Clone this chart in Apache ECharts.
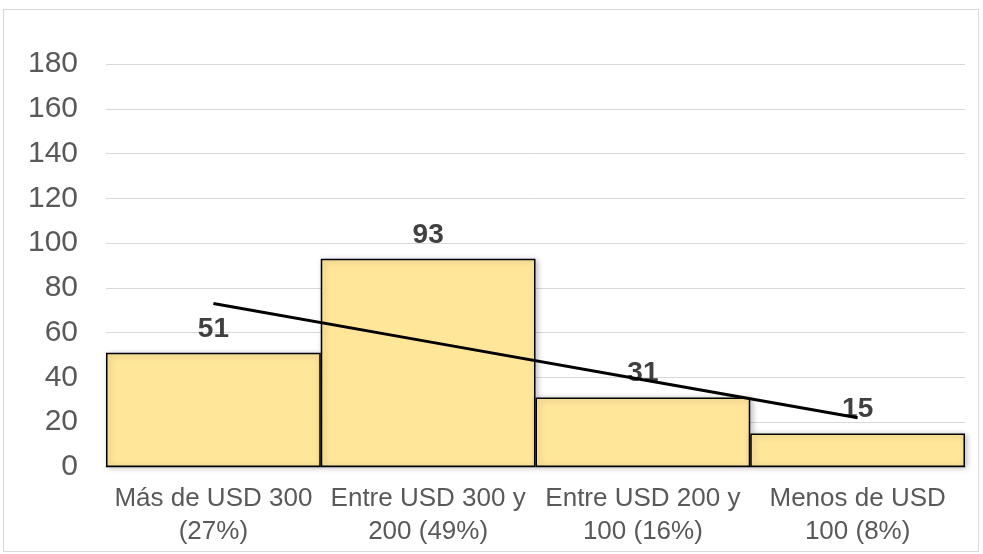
<!DOCTYPE html>
<html>
<head>
<meta charset="utf-8">
<script src="https://cdn.jsdelivr.net/npm/echarts@6/dist/echarts.min.js"></script>
<style>
  html, body { margin: 0; padding: 0; background: #fff; }
  #frame { position: absolute; left: 3px; top: 9px; width: 976px; height: 543px; border: 1px solid #d9d9d9; box-sizing: border-box; }
  #main { position: absolute; left: 0; top: 0; width: 983px; height: 554px; }
</style>
</head>
<body>
<div id="frame"></div>
<div id="main"></div>
<script>
// categories and values
var categories = [
  "Más de USD 300\n(27%)",
  "Entre USD 300 y\n200 (49%)",
  "Entre USD 200 y\n100 (16%)",
  "Menos de USD\n100 (8%)"
];
var counts = [51, 93, 31, 15];
var trend = [73, 56, 39, 22];
var yTicks = { min: 0, max: 180, interval: 20 };

var chart = echarts.init(document.getElementById("main"));
var option = {
  animation: false,
  grid: { left: 106, right: 18, top: 64, bottom: 87 },
  xAxis: {
    type: "category",
    data: categories,
    axisTick: { show: false },
    axisLine: { lineStyle: { color: "#bfbfbf", width: 1.5 } },
    axisLabel: {
      color: "#595959",
      fontSize: 26,
      fontFamily: "Liberation Sans, Arial, sans-serif",
      lineHeight: 33,
      margin: 15,
      interval: 0
    }
  },
  yAxis: {
    type: "value",
    min: yTicks.min,
    max: yTicks.max,
    interval: yTicks.interval,
    axisLine: { show: false },
    axisTick: { show: false },
    splitLine: { lineStyle: { color: "#d9d9d9", width: 1 } },
    axisLabel: {
      color: "#595959",
      fontSize: 30,
      fontFamily: "Liberation Sans, Arial, sans-serif",
      margin: 28
    }
  },
  series: [
    {
      type: "bar",
      data: counts,
      barCategoryGap: 0,
      itemStyle: {
        color: "#ffe699",
        borderColor: "#000",
        borderWidth: 1.5,
        shadowColor: "rgba(0,0,0,0.25)",
        shadowBlur: 6,
        shadowOffsetX: 2,
        shadowOffsetY: 1
      },
      label: {
        show: true,
        position: "top",
        distance: 10,
        color: "#404040",
        fontSize: 28,
        fontWeight: "bold",
        fontFamily: "Liberation Sans, Arial, sans-serif"
      },
      z: 2
    },
    {
      type: "line",
      data: trend,
      symbol: "none",
      lineStyle: { color: "#000", width: 3 },
      z: 3
    }
  ]
};
chart.setOption(option);
</script>
</body>
</html>
